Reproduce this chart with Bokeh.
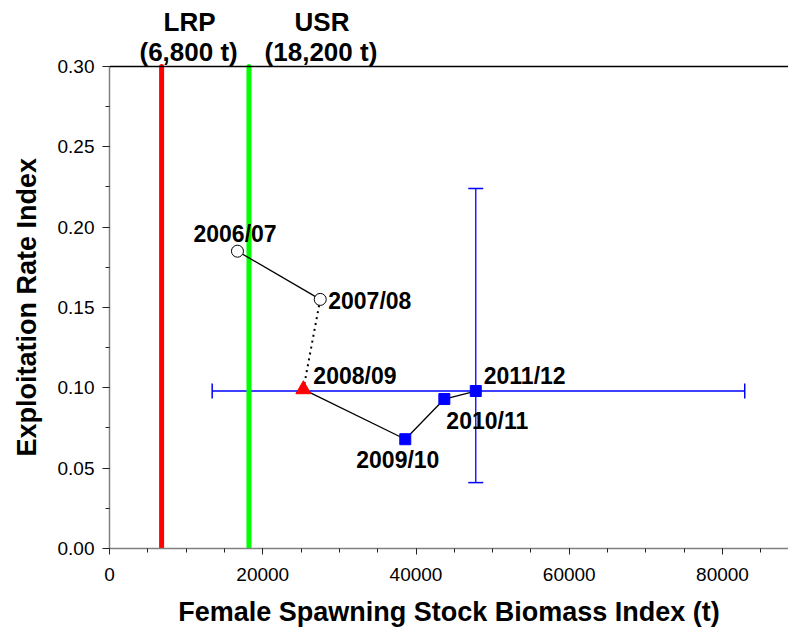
from bokeh.plotting import figure
from bokeh.models import (ColumnDataSource, Range1d, FixedTicker, NumeralTickFormatter,
                          Whisker, TeeHead, Span, Title)
from bokeh.core.properties import value
from bokeh.embed import file_html
from bokeh.resources import INLINE

# ---- data ----
years = ["2006/07", "2007/08", "2008/09", "2009/10", "2010/11", "2011/12"]
ssb = [16700, 27500, 25300, 38600, 43700, 47800]
er = [0.185, 0.155, 0.099, 0.068, 0.093, 0.098]

ssb_low, ssb_high = 13400, 82900
er_low, er_high = 0.041, 0.224

LRP = 6800
USR = 18200
ref_values = [LRP, LRP, USR, USR]
ref_texts = ["LRP", "(6,800 t)", "USR", "(18,200 t)"]

x_ticks = [0, 20000, 40000, 60000, 80000]
y_ticks = [0.0, 0.05, 0.10, 0.15, 0.20, 0.25, 0.30]

FONT = "Liberation Sans"

# layout (pixels)
W, H = 788, 629
LEFT, BOTTOM = 109, 80
PLOT_TOP = 66                     # where 0.30 sits on the page
frame_h = H - BOTTOM              # frame runs to the top of the canvas
y_max = y_ticks[-1] * frame_h / (frame_h - PLOT_TOP)
x_max = 80000 * (W - LEFT) / 613.0

p = figure(width=W, height=H, output_backend="svg", toolbar_location=None,
           x_range=Range1d(0, x_max), y_range=Range1d(0, y_max),
           min_border_left=LEFT, min_border_right=0, min_border_top=0,
           min_border_bottom=BOTTOM)
p.outline_line_color = None
p.grid.visible = False
p.background_fill_color = "white"

# axes
p.xaxis.ticker = FixedTicker(ticks=x_ticks, minor_ticks=list(range(0, 90001, 5000)))
p.yaxis.ticker = FixedTicker(ticks=y_ticks, minor_ticks=[i * 0.025 for i in range(13)])
p.yaxis.formatter = NumeralTickFormatter(format="0.00")
p.xaxis.formatter = NumeralTickFormatter(format="0")
p.yaxis.bounds = (y_ticks[0], y_ticks[-1])
for ax in (p.xaxis[0], p.yaxis[0]):
    ax.axis_line_color = "#808080"
    ax.axis_line_width = 1.5
    ax.major_tick_line_color = "#222222"
    ax.minor_tick_line_color = "#222222"
    ax.major_tick_in = 0
    ax.minor_tick_in = 0
    ax.minor_tick_out = 4
    ax.major_label_text_font = FONT
    ax.major_label_text_font_size = "19px"
    ax.major_label_text_color = "black"
    ax.axis_label_text_font = FONT
    ax.axis_label_text_font_size = "27px"
    ax.axis_label_text_font_style = "bold"
    ax.axis_label_text_color = "black"
p.xaxis.major_tick_out = 6
p.yaxis.major_tick_out = 7
p.xaxis.major_label_standoff = 13
p.yaxis.major_label_standoff = 8
p.xaxis.axis_label = "Female Spawning Stock Biomass Index (t)"
p.xaxis.axis_label_standoff = 13

# y axis title, centred on the 0-0.30 part of the axis
ytitle = Title(text="Exploitation Rate Index", align="left", offset=92,
               vertical_align="top", standoff=22,
               text_font=FONT, text_font_size="27px", text_font_style="bold",
               text_color="black")
p.add_layout(ytitle, "left")

# top frame line
p.add_layout(Span(location=y_ticks[-1], dimension="width", line_color="black", line_width=1.5))

# reference lines
p.segment(x0=[LRP], y0=[y_ticks[0]], x1=[LRP], y1=[y_ticks[-1]], line_color="#ff0000",
          line_width=5, line_cap="round")
p.segment(x0=[USR], y0=[y_ticks[0]], x1=[USR], y1=[y_ticks[-1]], line_color="#00ff00",
          line_width=5, line_cap="round")

# error bars for last point
hsrc = ColumnDataSource(dict(base=[er[-1]], lower=[ssb_low], upper=[ssb_high]))
vsrc = ColumnDataSource(dict(base=[ssb[-1]], lower=[er_low], upper=[er_high]))
for src, dim in ((hsrc, "width"), (vsrc, "height")):
    w = Whisker(source=src, base="base", lower="lower", upper="upper", dimension=dim,
                line_color="#0000ff", line_width=1.3,
                lower_head=TeeHead(size=15, line_color="#0000ff", line_width=1.5),
                upper_head=TeeHead(size=15, line_color="#0000ff", line_width=1.5))
    p.add_layout(w)

# trajectory lines
p.line(ssb[0:2], er[0:2], line_color="black", line_width=1.3)
p.line(ssb[1:3], er[1:3], line_color="black", line_width=2, line_dash="2 4")
p.line(ssb[2:], er[2:], line_color="black", line_width=1.3)

# markers
p.scatter(ssb[0:2], er[0:2], marker="circle", size=12, fill_color="white",
          line_color="black", line_width=1)
p.scatter(ssb[2:3], er[2:3], marker="triangle", size=15, fill_color="#ff0000",
          line_color="#ff0000")
p.scatter(ssb[3:], er[3:], marker="square", size=11, fill_color="#0000ff",
          line_color="#0000ff")

# point labels
dx = [-44, 8, 10, -49, 2, 8]
dy = [-17, 2, -13, 21, 22, -15]
lsrc = ColumnDataSource(dict(x=ssb, y=er, t=years, dx=dx, dy=dy))
p.text(x="x", y="y", text="t", source=lsrc, x_offset="dx", y_offset="dy",
       text_font=value(FONT), text_font_style="bold", text_font_size="23px",
       text_align="left", text_baseline="middle", text_color="black")

# reference point labels above the plot area
rsrc = ColumnDataSource(dict(x=ref_values, y=[y_ticks[-1]] * 4, t=ref_texts,
                             dx=[28, 27, 73, 72], dy=[-44, -14, -44, -14]))
p.text(x="x", y="y", text="t", source=rsrc, x_offset="dx", y_offset="dy",
       text_font=value(FONT), text_font_style="bold", text_font_size="26px",
       text_align="center", text_baseline="middle", text_color="black")

open("out.html", "w").write(file_html(p, INLINE))
